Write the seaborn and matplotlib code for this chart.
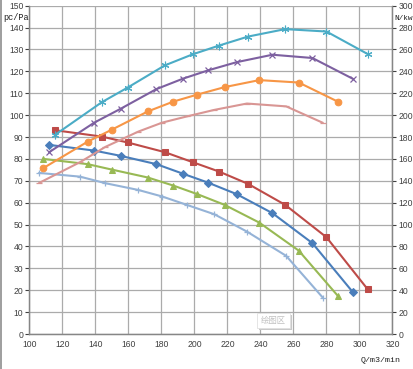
import matplotlib
matplotlib.use("Agg")
import matplotlib.pyplot as plt
import seaborn as sns
import numpy as np
from matplotlib.patches import Rectangle

# ---------------- data ----------------
# flow values (Q, m3/min) shared by each fan's pressure and power series
x_a = [115.6, 143.9, 159.6, 182.0, 199.0, 215.0, 232.5, 255.0, 280.0, 305.0]
x_b = [112.1, 139.4, 155.3, 177.0, 193.2, 208.5, 225.6, 247.3, 271.5, 296.0]
x_c = [108.5, 135.4, 150.1, 171.8, 187.3, 201.8, 218.3, 239.3, 263.2, 286.8]
x_d = [105.9, 130.7, 146.1, 166.1, 180.6, 195.4, 212.1, 231.8, 255.6, 277.8]

# pressure series (left axis, pc/Pa)
p_red = [93.1, 90.2, 87.5, 83.1, 78.5, 74.2, 68.6, 59.0, 44.2, 20.4]
p_blue = [86.4, 83.8, 81.4, 77.6, 73.2, 69.1, 63.9, 55.2, 41.5, 19.1]
p_green = [80.0, 77.6, 75.1, 71.5, 67.8, 63.9, 59.0, 50.9, 38.1, 17.5]
p_lblue = [73.6, 71.9, 68.9, 65.8, 62.8, 59.0, 54.7, 46.8, 35.7, 16.6]

# power series (right axis, N/kw)
n_cyan = [182.0, 211.8, 225.2, 245.4, 255.6, 263.6, 271.8, 278.6, 276.4, 255.8]
n_purple = [166.2, 193.2, 205.8, 223.8, 233.4, 241.0, 248.4, 255.2, 252.2, 233.2]
n_orange = [151.6, 175.8, 186.8, 203.4, 212.4, 218.8, 225.6, 232.0, 229.8, 212.4]
n_pink = [138.0, 157.0, 171.0, 185.0, 193.2, 198.8, 204.8, 210.6, 208.0, 193.0]

x_ticks = [100, 120, 140, 160, 180, 200, 220, 240, 260, 280, 300, 320]
left_ticks = list(range(0, 151, 10))
right_ticks = list(range(0, 301, 20))

# ---------------- style ----------------
sns.set_style("white")
plt.rcParams['font.family'] = ['Liberation Sans', 'DejaVu Sans']

W, H = 413, 369
fig = plt.figure(figsize=(W / 100, H / 100), dpi=100)
ax = fig.add_axes([29.3 / W, 1 - 334 / H, (392.5 - 29.3) / W, (334 - 5.7) / H])
ax2 = ax.twinx()

lw = 1.5
pressure = [
    (x_a, p_red, "#BE4B48", "s", 4.8, {}),
    (x_b, p_blue, "#4A7EBB", "D", 3.6, {}),
    (x_c, p_green, "#98B954", "^", 4.8, {}),
    (x_d, p_lblue, "#95B3D7", "+", 4.5, {"markeredgewidth": 0.9}),
]
power = [
    (x_a, n_cyan, "#4BACC6", (6, 2, 0), 5.5, {"markeredgewidth": 0.8}),
    (x_b, n_purple, "#7D60A0", "x", 4.0, {"markeredgewidth": 0.9}),
    (x_c, n_orange, "#F79646", "o", 4.8, {}),
    (x_d, n_pink, "#D99694", "_", 4.5, {"markeredgewidth": 0.9}),
]

for xs, ys, col, mk, ms, extra in pressure:
    sns.lineplot(x=xs, y=ys, ax=ax, color=col, marker=mk, markersize=ms,
                 markeredgecolor=col, markerfacecolor=col, linewidth=lw,
                 sort=False, legend=False, zorder=3, **extra)
for xs, ys, col, mk, ms, extra in power:
    sns.lineplot(x=xs, y=ys, ax=ax2, color=col, marker=mk, markersize=ms,
                 markeredgecolor=col, markerfacecolor=col, linewidth=lw,
                 sort=False, legend=False, zorder=3, **extra)

ax.set_xlim(100, 320)
ax.set_ylim(0, 150)
ax2.set_ylim(0, 300)
ax.set_xticks(x_ticks)
ax.set_yticks(left_ticks)
ax2.set_yticks(right_ticks)
ax.set_xticklabels([str(v) for v in x_ticks])
ax.set_yticklabels([str(v) for v in left_ticks])
ax2.set_yticklabels([str(v) for v in right_ticks])

ax.grid(True, color="#ABABAB", linewidth=0.9)
ax2.grid(False)
ax.set_axisbelow(True)

tick_col = "#404040"
for a in (ax, ax2):
    a.tick_params(labelsize=6.2, colors=tick_col, length=3, width=0.8, pad=1.2)
    for s in a.spines.values():
        s.set_color("#868686")
        s.set_linewidth(0.9)
    a.spines['top'].set_visible(False)
ax.tick_params(axis='both', which='both', direction='out')
ax2.tick_params(axis='y', right=True, direction='out')
ax.set_xlabel("")
ax.set_ylabel("")
ax2.set_ylabel("")

mono = ['Liberation Mono', 'DejaVu Sans Mono']
fig.text(3 / W, 1 - 17 / H, "pc/Pa", family=mono, fontsize=6.2, color="#202020",
         va='center', ha='left')
fig.text(394 / W, 1 - 18 / H, "N/kw", family=mono, fontsize=5.6, color="#202020",
         va='center', ha='left')
fig.text(381 / W, 1 - 360 / H, "Q/m3/min", family=mono, fontsize=6.0, color="#202020",
         va='center', ha='center')

# left border of the screenshot frame
fig.add_artist(Rectangle((0, 0), 2 / W, 1, transform=fig.transFigure,
                         color="#A0A0A0", lw=0))

# "plot area" tooltip
fig.add_artist(Rectangle((259 / W, 1 - 330 / H), 33 / W, 15 / H, transform=fig.transFigure,
                         facecolor="#C8C8C8", edgecolor="none", zorder=5))
fig.add_artist(Rectangle((257 / W, 1 - 328 / H), 33 / W, 15 / H, transform=fig.transFigure,
                         facecolor="white", edgecolor="#E0E0E0", lw=0.6, zorder=6))
fig.text(273.5 / W, 1 - 320.5 / H, "绘图区", family=['Noto Sans CJK SC', 'DejaVu Sans'],
         fontsize=6, color="#C0C0C0", ha='center', va='center', zorder=7)

fig.savefig("out.png", dpi=100)
